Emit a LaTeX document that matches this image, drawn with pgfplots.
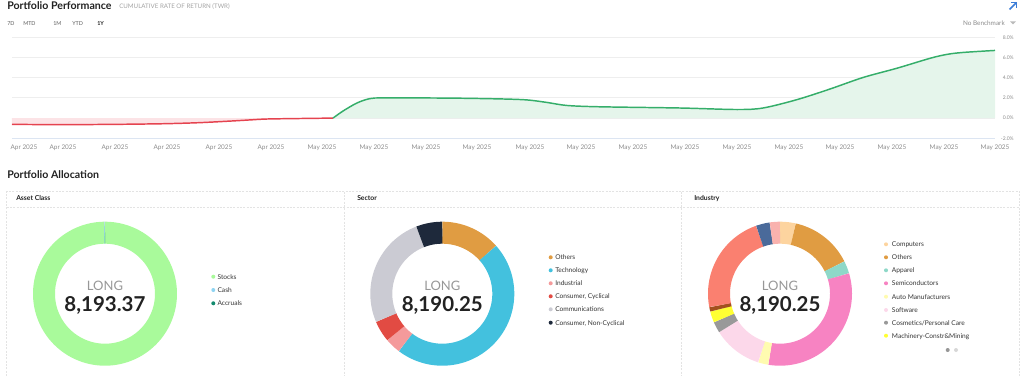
\documentclass[border=0pt]{standalone}
\usepackage{fontspec}
\setmainfont{Lato}
\usepackage{pgfplots}
\usepackage{pgfplotstable}
\pgfplotsset{compat=1.18}

\definecolor{cTitle}{HTML}{222222}
\definecolor{cText}{HTML}{333333}
\definecolor{cTick}{HTML}{8C8C8C}
\definecolor{cGrid}{HTML}{EEEEEE}
\definecolor{cGridB}{HTML}{DCE5F2}
\definecolor{cRed}{HTML}{E5434F}
\definecolor{cRedFill}{HTML}{FCE3E6}
\definecolor{cGreen}{HTML}{35AE6A}
\definecolor{cGreenFill}{HTML}{E5F5EB}
\definecolor{cBorder}{HTML}{E3E3E3}
\definecolor{cBlue}{HTML}{3B7DD8}
\definecolor{cStocks}{HTML}{A9FA9B}
\definecolor{cCash}{HTML}{8FD4F2}
\definecolor{cAccr}{HTML}{138A6E}
\definecolor{cOthers}{HTML}{E09C42}
\definecolor{cTech}{HTML}{43C1DE}
\definecolor{cIndus}{HTML}{F49A9B}
\definecolor{cCyc}{HTML}{E24B43}
\definecolor{cComm}{HTML}{CBCBD3}
\definecolor{cNonCyc}{HTML}{1E293B}
\definecolor{cComp}{HTML}{FDD49F}
\definecolor{cAppar}{HTML}{8ED8C8}
\definecolor{cSemi}{HTML}{F783C2}
\definecolor{cAuto}{HTML}{FFFBB0}
\definecolor{cSoft}{HTML}{FCD8EA}
\definecolor{cCosm}{HTML}{999999}
\definecolor{cMach}{HTML}{FFFF33}
\definecolor{cBrown}{HTML}{A3501E}
\definecolor{cSalmon}{HTML}{FA8070}
\definecolor{cNavy}{HTML}{4A6A9A}
\definecolor{cLSalmon}{HTML}{F9B2AE}

\newcommand\fs[1]{\pgfmathsetlengthmacro\fsz{#1*0.75}\fontsize{\fsz}{\fsz}\selectfont}

% slice tables (percent of ring, clockwise from 12 o'clock)
\pgfplotstableread{
pct col
99.85 cStocks
0.10 cCash
0.05 cAccr
}\assettbl
\pgfplotstableread{
pct col
13.4 cOthers
46.9 cTech
3.5 cIndus
4.8 cCyc
25.5 cComm
5.9 cNonCyc
}\sectortbl
\pgfplotstableread{
pct col
3.5 cComp
14.1 cOthers
2.8 cAppar
32.2 cSemi
2.3 cAuto
11.1 cSoft
2.5 cCosm
2.5 cMach
1.0 cBrown
22.6 cSalmon
3.1 cNavy
2.3 cLSalmon
}\industrytbl

\newcommand\donut[1]{%
  \gdef\cum{0}%
  \pgfplotstablegetrowsof{#1}\pgfmathtruncatemacro\nrows{\pgfplotsretval-1}%
  \pgfplotsforeachungrouped \i in {0,...,\nrows}{%
    \pgfplotstablegetelem{\i}{pct}\of{#1}\let\pct\pgfplotsretval
    \pgfplotstablegetelem{\i}{col}\of{#1}\let\col\pgfplotsretval
    \pgfmathsetmacro\sA{90-3.6*\cum}%
    \pgfmathsetmacro\cumB{\cum+\pct}%
    \pgfmathsetmacro\sB{90-3.6*\cumB}%
    \pgfmathtruncatemacro\ns{max(2,2+\pct*3.6/1.5)}%
    \xdef\cum{\cumB}%
    \edef\doslice{\noexpand\addplot[draw=\col, line width=16.5pt, line join=round, domain=\sB:\sA, samples=\ns, forget plot] ({61*cos(x)},{61*sin(x)});}%
    \doslice
  }%
}

\pgfplotsset{donutaxis/.style={anchor=center, scale only axis, width=108pt, height=108pt,
  xmin=-72, xmax=72, ymin=-72, ymax=72, hide axis, clip=false}}

\begin{document}
\begin{tikzpicture}
\useasboundingbox (0,0) rectangle (768pt,-281.25pt);

% ---------------- performance line chart ----------------
\begin{axis}[
  at={(9pt,-103.725pt)}, anchor=south west,
  scale only axis, width=737.25pt, height=75.75pt,
  xmin=12, xmax=995, ymin=-2, ymax=8,
  axis line style={draw=none},
  major tick length=0pt,
  ymajorgrids, grid style={draw=cGrid, line width=0.75pt},
  ytick={0,2,4,6,8}, yticklabels={0.0\%,2.0\%,4.0\%,6.0\%,8.0\%},
  extra y ticks={-2}, extra y tick labels={-2.0\%},
  extra y tick style={grid style={draw=cGridB, line width=0.75pt}},
  yticklabel pos=right,
  yticklabel style={anchor=east, inner sep=0pt, xshift=14.25pt, font=\fs{5}, text=cTick},
  xtick={24,63,115,167,219,271,322,374,426,477,530,581,633,685,737,789,840,892,944,995},
  xticklabels={Apr 2025,Apr 2025,Apr 2025,Apr 2025,Apr 2025,Apr 2025,May 2025,May 2025,May 2025,May 2025,May 2025,May 2025,May 2025,May 2025,May 2025,May 2025,May 2025,May 2025,May 2025,May 2025},
  xticklabel style={anchor=center, inner sep=0pt, yshift=-6.75pt, font=\fs{6.4}, text=cTick},
  clip=false,
]
\addplot[draw=none, fill=cRedFill, smooth, tension=0.5] coordinates {
(12,-0.62) (40,-0.64) (67,-0.65) (100,-0.63) (133,-0.60) (167,-0.55) (200,-0.45) (233,-0.28) (250,-0.18) (267,-0.09) (300,-0.04) (333,0)
} \closedcycle;
\addplot[cRed, line width=1.1pt, smooth, tension=0.5] coordinates {
(12,-0.62) (40,-0.64) (67,-0.65) (100,-0.63) (133,-0.60) (167,-0.55) (200,-0.45) (233,-0.28) (250,-0.18) (267,-0.09) (300,-0.04) (333,0)
};
\addplot[draw=none, fill=cGreenFill, smooth, tension=0.5] coordinates {
(333,0) (343,0.7) (357,1.5) (370,1.93) (385,2.0) (450,1.98) (500,1.9) (527,1.8) (547,1.55) (567,1.25) (600,1.12) (680,1.0) (737,0.85) (763,1.0) (797,1.83) (830,2.88) (863,4.02) (897,4.94) (930,5.92) (947,6.31) (963,6.5) (995,6.7)
} \closedcycle;
\addplot[cGreen, line width=1.1pt, smooth, tension=0.5] coordinates {
(333,0) (343,0.7) (357,1.5) (370,1.93) (385,2.0) (450,1.98) (500,1.9) (527,1.8) (547,1.55) (567,1.25) (600,1.12) (680,1.0) (737,0.85) (763,1.0) (797,1.83) (830,2.88) (863,4.02) (897,4.94) (930,5.92) (947,6.31) (963,6.5) (995,6.7)
};
\end{axis}

% ---------------- donuts ----------------
\begin{axis}[donutaxis, at={(78.75pt,-220.275pt)}]
\donut{\assettbl}
\end{axis}
\begin{axis}[donutaxis, at={(331.725pt,-220.275pt)}]
\donut{\sectortbl}
\end{axis}
\begin{axis}[donutaxis, at={(585pt,-220.275pt)}]
\donut{\industrytbl}
\end{axis}

% ---------------- decoration, titles, legends ----------------
\begin{scope}[x=0.75pt,y=-0.75pt]
\node[anchor=base west, inner sep=0pt, text=cTitle] at (7,9.5) {\fs{10.6}\bfseries Portfolio Performance};
\node[anchor=base west, inner sep=0pt, text=cTick!80] at (119,8) {\fs{6.2}CUMULATIVE RATE OF RETURN (TWR)};
\node[anchor=base west, inner sep=0pt, text=cText!80] at (7,25) {\fs{5.4}7D};
\node[anchor=base west, inner sep=0pt, text=cText!80] at (23,25) {\fs{5.4}MTD};
\node[anchor=base west, inner sep=0pt, text=cText!80] at (53,25) {\fs{5.4}1M};
\node[anchor=base west, inner sep=0pt, text=cText!80] at (72,25) {\fs{5.4}YTD};
\node[anchor=base west, inner sep=0pt, text=cTitle] at (97,25) {\fs{5.4}\bfseries 1Y};
\node[anchor=base east, inner sep=0pt, text=cTick] at (1005,25) {\fs{6.4}No Benchmark};
\fill[cTick!60] (1010,21.3) -- (1016,21.3) -- (1013,24.3) -- cycle;
\draw[cBlue, line width=1.1pt] (1009.5,9.5) -- (1016.5,2.5);
\draw[cBlue, line width=1.1pt] (1011,2.5) -- (1016.5,2.5) -- (1016.5,8);

\node[anchor=base west, inner sep=0pt, text=cTitle] at (7,178.3) {\fs{10.6}\bfseries Portfolio Allocation};

\draw[cBorder, line width=0.75pt, dash pattern=on 1.5pt off 1pt] (6.5,376) -- (6.5,191.7) -- (1019.5,191.7) -- (1019.5,376);
\draw[cBorder, line width=0.75pt, dash pattern=on 1.5pt off 1pt] (344,191.7) -- (344,376);
\draw[cBorder, line width=0.75pt, dash pattern=on 1.5pt off 1pt] (681.7,191.7) -- (681.7,376);
\draw[cBorder, line width=0.75pt, dash pattern=on 1.5pt off 1pt] (6.5,207.7) -- (1019.5,207.7);

\node[anchor=base west, inner sep=0pt, text=cTitle] at (16,200.7) {\fs{6.8}\bfseries Asset Class};
\node[anchor=base west, inner sep=0pt, text=cTitle] at (357,200.7) {\fs{6.8}\bfseries Sector};
\node[anchor=base west, inner sep=0pt, text=cTitle] at (694,200.7) {\fs{6.8}\bfseries Industry};

% centre texts
\foreach \cx/\val in {105/{8,193.37}, 442.3/{8,190.25}, 780/{8,190.25}}{
  \node[anchor=base, inner sep=0pt, text=cTick!90] at (\cx,290) {\fs{13}LONG};
  \node[anchor=base, inner sep=0pt, text=cTitle] at (\cx,311.5) {\fs{20.5}\bfseries \val};
}

% legends
\foreach \y/\c/\t in {276.7/cStocks/Stocks, 290/cCash/Cash, 303.3/cAccr/Accruals}{
  \fill[\c] (213.3,\y) circle[radius=2];
  \node[anchor=base west, inner sep=0pt, text=cText] at (217.3,\y+2.3) {\fs{6.6}\t};
}
\foreach \y/\c/\t in {257.3/cOthers/Others, 270.3/cTech/Technology, 283.3/cIndus/Industrial, 296.3/cCyc/{Consumer, Cyclical}, 309.3/cComm/Communications, 322.7/cNonCyc/{Consumer, Non-Cyclical}}{
  \fill[\c] (550.7,\y) circle[radius=2];
  \node[anchor=base west, inner sep=0pt, text=cText] at (555,\y+2.3) {\fs{6.6}\t};
}
\foreach \y/\c/\t in {244.3/cComp/Computers, 257.3/cOthers/Others, 270.3/cAppar/Apparel, 283.3/cSemi/Semiconductors, 296.7/cAuto/Auto Manufacturers, 310/cSoft/Software, 322.7/cCosm/Cosmetics\slash Personal Care, 335.7/cMach/Machinery-Constr\&Mining}{
  \fill[\c] (886,\y) circle[radius=2];
  \node[anchor=base west, inner sep=0pt, text=cText] at (891.7,\y+2.3) {\fs{6.6}\t};
}
\fill[cTick!90] (947.7,350) circle[radius=2];
\fill[cTick!35] (956,350) circle[radius=2];
\end{scope}
\end{tikzpicture}
\end{document}
